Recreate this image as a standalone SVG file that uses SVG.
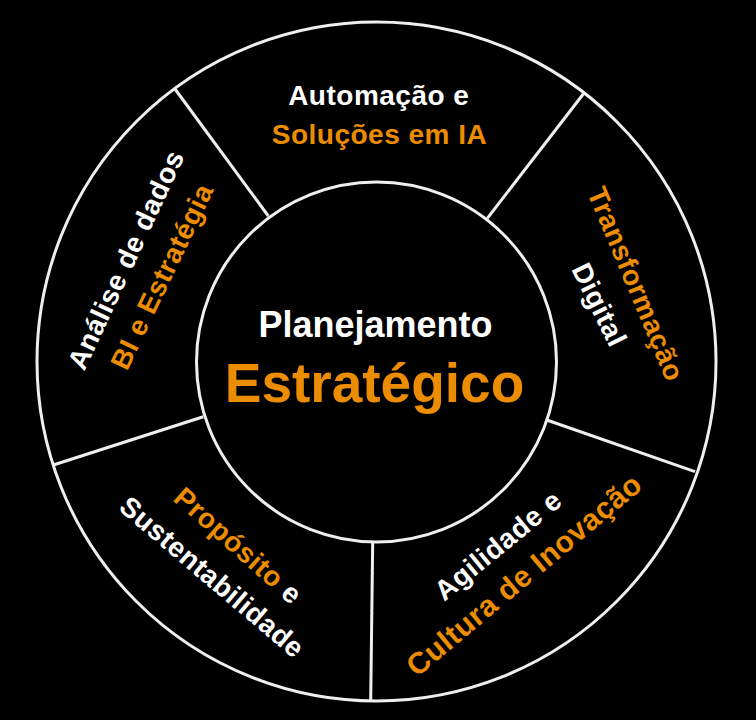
<svg xmlns="http://www.w3.org/2000/svg" width="756" height="720" viewBox="0 0 756 720">
  <style>
    .ring { fill: none; stroke: #EFEFEF; stroke-width: 3; }
    .div { stroke: #EFEFEF; stroke-width: 3; stroke-linecap: butt; }
    text { font-family: "Liberation Sans", Arial, sans-serif; font-weight: bold; }
    .w { fill: #FFFFFF; }
    .o { fill: #EC8C00; }
    .lbl { font-size: 28px; text-anchor: middle; letter-spacing: 0.5px; }
  </style>
  <rect x="0" y="0" width="756" height="720" fill="#000000"/>

  <g id="outer-ring">
    <circle class="ring" cx="376.5" cy="361.5" r="339.5"/>
  </g>

  <g id="dividers">
    <line class="div" x1="175" y1="89" x2="268.3" y2="216"/>
    <line class="div" x1="583.3" y1="94" x2="487.3" y2="218.3"/>
    <line class="div" x1="546.7" y1="420" x2="695" y2="471.7"/>
    <line class="div" x1="372.7" y1="541.7" x2="370.7" y2="700"/>
    <line class="div" x1="203.3" y1="416.7" x2="53.3" y2="465"/>
  </g>

  <g id="center">
    <circle class="ring" cx="376.5" cy="362" r="180"/>
    <text class="w" x="375.5" y="336.5" font-size="36" text-anchor="middle">Planejamento</text>
    <text class="o" x="374.5" y="402.3" font-size="55" text-anchor="middle">Estratégico</text>
  </g>

  <g id="top">
    <text class="w lbl" x="378.8" y="105">Automação e</text>
    <text class="o lbl" x="379.5" y="144">Soluções em IA</text>
  </g>

  <g id="right">
    <text class="o lbl" transform="translate(635.3,284.2) rotate(67.2)" y="9">Transformação</text>
    <text class="w lbl" transform="translate(598.7,305) rotate(63.8)" y="9">Digital</text>
  </g>

  <g id="bottom-right">
    <text class="w lbl" transform="translate(498.3,545.8) rotate(-39.4)" y="9">Agilidade e</text>
    <text class="o lbl" transform="translate(524.2,575) rotate(-39.9)" y="10" style="font-size:30px">Cultura de Inovação</text>
  </g>

  <g id="bottom-left">
    <text class="lbl" transform="translate(237.8,546.2) rotate(41.5)" y="9"><tspan class="o">Propósito</tspan><tspan class="w"> e</tspan></text>
    <text class="w lbl" transform="translate(211.7,577.5) rotate(40.3)" y="9">Sustentabilidade</text>
  </g>

  <g id="left">
    <text class="w lbl" transform="translate(126.5,260) rotate(-65)" y="9">Análise de dados</text>
    <text class="o lbl" transform="translate(162.5,276.7) rotate(-64.4)" y="9">BI e Estratégia</text>
  </g>
</svg>
